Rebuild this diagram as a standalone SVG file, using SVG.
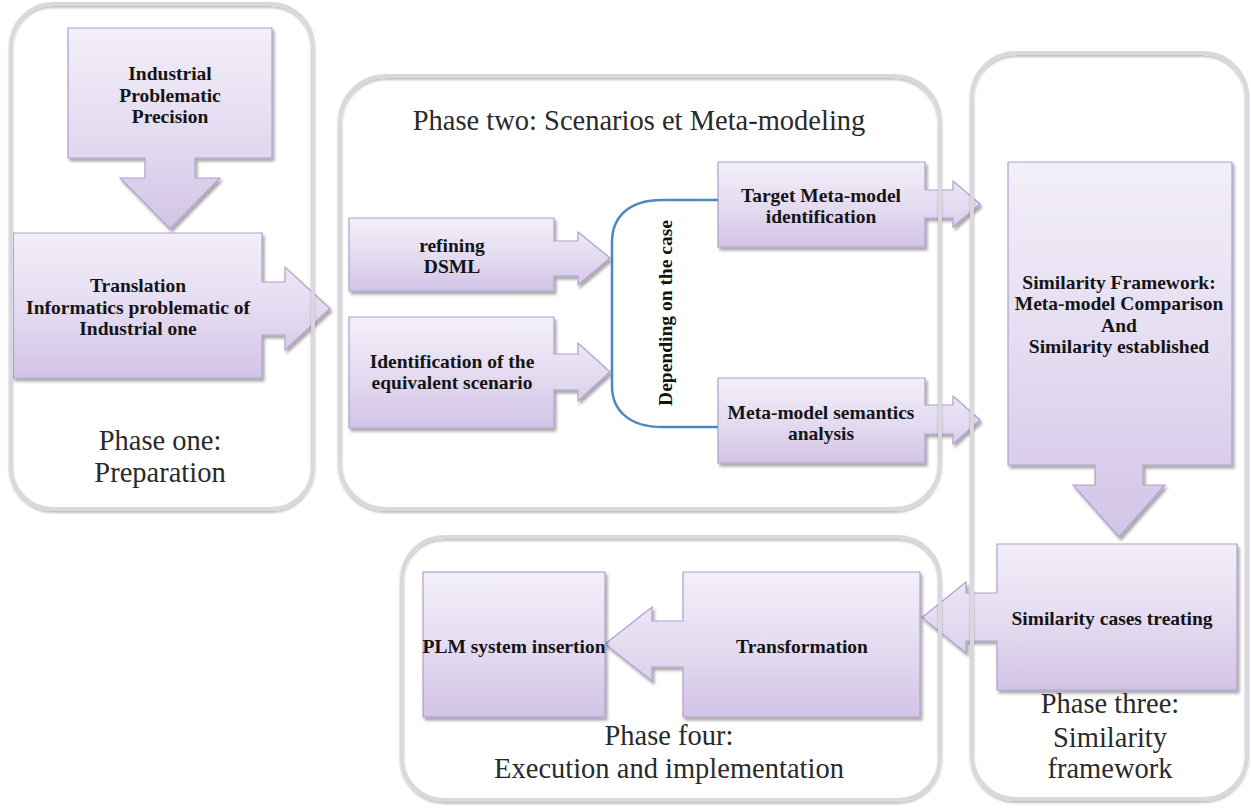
<svg xmlns="http://www.w3.org/2000/svg" width="1251" height="808" viewBox="0 0 1251 808">
  <defs>
    <linearGradient id="lav" x1="0" y1="0" x2="0" y2="1">
      <stop offset="0" stop-color="#f3eff9"/>
      <stop offset="0.55" stop-color="#e3daf0"/>
      <stop offset="1" stop-color="#d2c4e6"/>
    </linearGradient>
    <filter id="shade" x="-5%" y="-5%" width="115%" height="115%">
      <feGaussianBlur in="SourceAlpha" stdDeviation="1.6"/>
      <feOffset dx="1.5" dy="2.5" result="b"/>
      <feComponentTransfer><feFuncA type="linear" slope="0.35"/></feComponentTransfer>
      <feMerge><feMergeNode/><feMergeNode in="SourceGraphic"/></feMerge>
    </filter>
    <filter id="frameShade" x="-5%" y="-5%" width="110%" height="110%">
      <feGaussianBlur in="SourceAlpha" stdDeviation="1.2"/>
      <feOffset dx="0" dy="2" result="b"/>
      <feComponentTransfer><feFuncA type="linear" slope="0.25"/></feComponentTransfer>
      <feMerge><feMergeNode/><feMergeNode in="SourceGraphic"/></feMerge>
    </filter>
  </defs>
  <style>
    .frame { fill: none; stroke: #d9d8de; stroke-width: 4; filter: url(#frameShade); }
    .shape { fill: url(#lav); stroke: #b09fcd; stroke-width: 1.2; filter: url(#shade); }
    .lbl { font-family: "Liberation Serif", "DejaVu Serif", serif; font-weight: bold; font-size: 19.5px; fill: #141414; text-anchor: middle; }
    .phase { font-family: "Liberation Serif", "DejaVu Serif", serif; font-size: 28.5px; fill: #2a2a2a; text-anchor: middle; }
    .bracket { fill: none; stroke: #4f87c2; stroke-width: 2.5; }
  </style>

  <rect width="1251" height="808" fill="#ffffff"/>

  <!-- step shapes (box with attached block arrow) -->
  <g id="industrial-problematic">
    <path class="shape" d="M68,28 H272 V158 H195 V178 H220 L170,229 L120,178 H145 V158 H68 Z"/>
    <text class="lbl" x="170" y="80">Industrial</text>
    <text class="lbl" x="170" y="102">Problematic</text>
    <text class="lbl" x="170" y="123">Precision</text>
  </g>
  <g id="translation">
    <path class="shape" d="M13,233 H262 V282 H285 V267 L330,308.5 L285,350 V335 H262 V378 H13 Z"/>
    <text class="lbl" x="138" y="292">Translation</text>
    <text class="lbl" x="138" y="314">Informatics problematic of</text>
    <text class="lbl" x="138" y="335">Industrial one</text>
  </g>
  <g id="refining-dsml">
    <path class="shape" d="M349,218 H554 V241 H578 V232 L610,258 L578,285 V276 H554 V291 H349 Z"/>
    <text class="lbl" x="452" y="252">refining</text>
    <text class="lbl" x="452" y="273">DSML</text>
  </g>
  <g id="equivalent-scenario">
    <path class="shape" d="M349,317 H554 V354 H578 V343 L610,372 L578,401 V390 H554 V428 H349 Z"/>
    <text class="lbl" x="452" y="368">Identification of the</text>
    <text class="lbl" x="452" y="389">equivalent scenario</text>
  </g>
  <g id="target-metamodel">
    <path class="shape" d="M718,162 H925 V190 H953 V181 L980,204 L953,227 V218 H925 V247 H718 Z"/>
    <text class="lbl" x="821" y="202">Target Meta-model</text>
    <text class="lbl" x="821" y="223">identification</text>
  </g>
  <g id="semantics-analysis">
    <path class="shape" d="M718,378 H925 V405 H953 V396 L980,420 L953,444 V434 H925 V463 H718 Z"/>
    <text class="lbl" x="821" y="419">Meta-model semantics</text>
    <text class="lbl" x="821" y="440">analysis</text>
  </g>
  <g id="similarity-framework">
    <path class="shape" d="M1008,162 H1232 V465 H1143 V485 H1165 L1119,537 L1073,485 H1095 V465 H1008 Z"/>
    <text class="lbl" x="1119" y="289">Similarity Framework:</text>
    <text class="lbl" x="1119" y="310">Meta-model Comparison</text>
    <text class="lbl" x="1119" y="332">And</text>
    <text class="lbl" x="1119" y="353">Similarity established</text>
  </g>
  <g id="similarity-cases">
    <path class="shape" d="M997,544 H1237 V690 H997 V641 H966 V653 L922,617.5 L966,582 V593 H997 Z"/>
    <text class="lbl" x="1112" y="625">Similarity cases treating</text>
  </g>
  <g id="transformation">
    <path class="shape" d="M683,572 H920 V717 H683 V667 H652 V681 L605,644 L652,607 V621 H683 Z"/>
    <text class="lbl" x="802" y="653">Transformation</text>
  </g>
  <g id="plm-insertion">
    <rect class="shape" x="423" y="572" width="182" height="145"/>
    <text class="lbl" x="514" y="653">PLM system insertion</text>
  </g>

  <!-- phase frames: outline only, laid over the shapes they group -->
  <g id="phase-one">
    <rect class="frame" x="11" y="4" width="302" height="505" rx="42"/>
    <text class="phase" x="160" y="450">Phase one:</text>
    <text class="phase" x="160" y="482">Preparation</text>
  </g>
  <g id="phase-two">
    <rect class="frame" x="340" y="76" width="600" height="433" rx="46"/>
    <text class="phase" x="639" y="130">Phase two: Scenarios et Meta-modeling</text>
  </g>
  <g id="phase-three">
    <rect class="frame" x="972" y="53" width="275" height="746" rx="44"/>
    <text class="phase" x="1110" y="713">Phase three:</text>
    <text class="phase" x="1110" y="747">Similarity</text>
    <text class="phase" x="1110" y="778">framework</text>
  </g>
  <g id="phase-four">
    <rect class="frame" x="402" y="537" width="538" height="263" rx="42"/>
    <text class="phase" x="669" y="745">Phase four:</text>
    <text class="phase" x="669" y="778">Execution and implementation</text>
  </g>

  <!-- connectors -->
  <g id="connectors">
    <path class="bracket" d="M718,200 H662 C630,200 612,216 612,242 V386 C612,411 630,427 662,427 H718"/>
    <text class="lbl" transform="translate(672,313) rotate(-90)">Depending on the case</text>
  </g>
</svg>
